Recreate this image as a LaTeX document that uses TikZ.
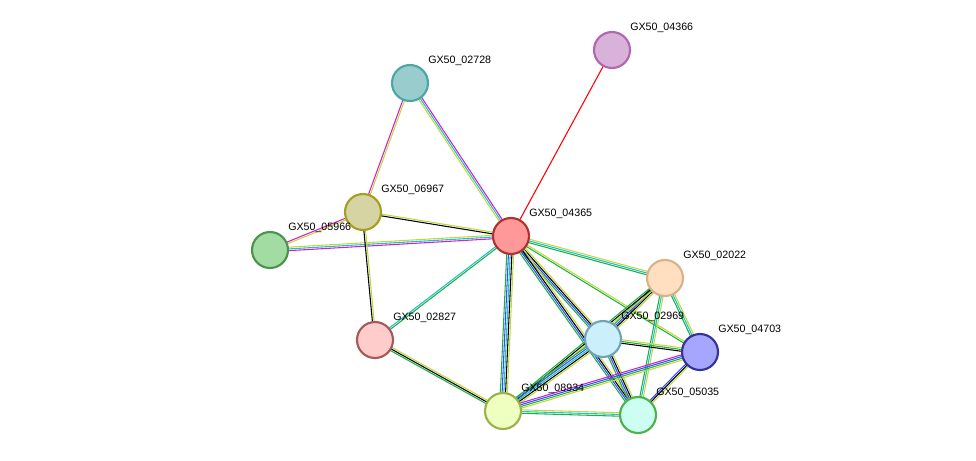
\documentclass[tikz,border=0pt]{standalone}
\usepackage{fontspec}
\setmainfont{Liberation Sans}
\usetikzlibrary{calc,backgrounds}
\definecolor{tm}{HTML}{C0D840}
\definecolor{nb}{HTML}{20B040}
\definecolor{co}{HTML}{3050FF}
\definecolor{db}{HTML}{20C0D0}
\definecolor{ex}{HTML}{D020D0}
\tikzset{prot/.style={circle,draw,line width=1.6pt,minimum size=27pt,inner sep=0pt},
  lbl/.style={anchor=west,font=\fontsize{8}{9}\selectfont,inner sep=0pt},
}
% #1 from, #2 to, #3 list of offset/colour
\newcommand\link[3]{\foreach \o/\c in {#3}
  \draw[\c,line width=0.8pt] ($(#1.center)!\o*1.3pt!90:(#2.center)$) -- ($(#2.center)!\o*1.3pt!-90:(#1.center)$);}
\newcommand\prot[5]{\node[prot,fill=#4,draw=#5] (#1) at (#2) {};
  \node[lbl] (#1l) at ($(#1)+(18,-22)$) {GX50\_#3};}

\begin{document}
\begin{tikzpicture}[x=0.75pt,y=-0.75pt]
\useasboundingbox (0,0) rectangle (976,461);
\prot{n04366}{612,50}{04366}{violet!30}{violet!60}
\prot{n02728}{410,83}{02728}{teal!40}{teal!70}
\prot{n06967}{363,212}{06967}{yellow!40!gray!60}{olive!80}
\prot{n05966}{270,250}{05966}{green!45!gray!50}{green!40!black!70}
\prot{n04365}{511,236}{04365}{red!40}{red!60!black!80}
\prot{n02022}{665,278}{02022}{orange!25}{brown!60}
\prot{n02827}{375,340}{02827}{red!20}{red!30!gray}
\prot{n02969}{603,339}{02969}{cyan!20}{cyan!40!gray}
\prot{n04703}{700,352}{04703}{blue!35}{blue!50!black!80}
\prot{n08934}{503,411}{08934}{lime!25}{lime!40!gray}
\prot{n05035}{638,415}{05035}{green!25!cyan!20}{green!40!gray}
\begin{pgfonlayer}{background}
\link{n04365}{n04366}{0/red}
\link{n04365}{n02728}{-1/ex,0/db,1/tm}
\link{n02728}{n06967}{-0.5/ex,0.5/tm}
\link{n06967}{n04365}{-0.5/black,0.5/tm}
\link{n06967}{n05966}{-0.5/ex,0.5/tm}
\link{n05966}{n04365}{-1/ex,0/db,1/tm}
\link{n06967}{n02827}{-0.5/black,0.5/tm}
\link{n04365}{n02827}{-0.5/db,0.5/nb}
\link{n02827}{n08934}{-1/nb,0/black,1/tm}
\link{n04365}{n08934}{-2/nb,-1/co,0/db,1/black,2/tm}
\link{n04365}{n02022}{-1/nb,0/db,1/tm}
\link{n04365}{n02969}{-1.5/nb,-0.5/co,0.5/black,1.5/tm}
\link{n04365}{n04703}{-0.5/nb,0.5/tm}
\link{n04365}{n05035}{-1.5/nb,-0.5/co,0.5/black,1.5/tm}
\link{n02022}{n02969}{-1.5/nb,-0.5/co,0.5/black,1.5/tm}
\link{n02022}{n04703}{-1/nb,0/db,1/tm}
\link{n02022}{n05035}{-1/nb,0/db,1/tm}
\link{n02022}{n08934}{-1/nb,0/black,1/tm}
\link{n02969}{n04703}{-1/black,0/nb,1/tm}
\link{n02969}{n08934}{-2/nb,-1/co,0/db,1/black,2/tm}
\link{n02969}{n05035}{-1.5/nb,-0.5/co,0.5/black,1.5/tm}
\link{n04703}{n08934}{-1.5/ex,-0.5/co,0.5/nb,1.5/tm}
\link{n04703}{n05035}{-1/co,0/black,1/tm}
\link{n08934}{n05035}{-1/nb,0/db,1/tm}
\end{pgfonlayer}
\end{tikzpicture}
\end{document}
